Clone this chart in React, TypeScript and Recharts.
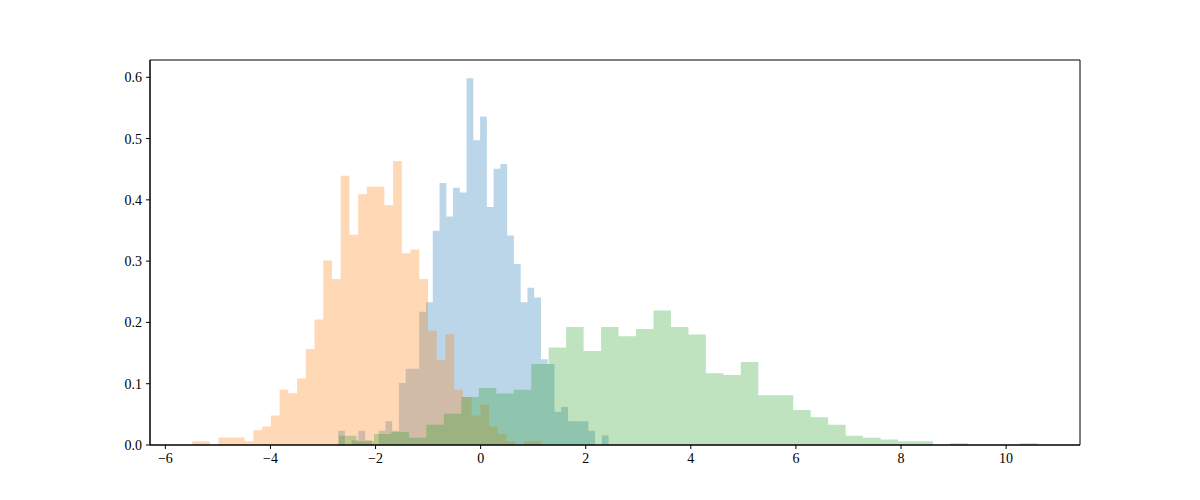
import { AreaChart, Area, XAxis, YAxis, ReferenceArea } from "recharts";

// histogram counts per bin (40 bins each)
const blueCounts = [3, 0, 1, 3, 1, 0, 3, 5, 3, 13, 16, 16, 28, 30, 45, 55, 48, 54, 53, 77, 64, 69, 50, 58, 59, 44, 38, 30, 33, 31, 18, 17, 7, 8, 5, 5, 5, 3, 0, 2];
const orangeCounts = [1, 1, 0, 2, 2, 2, 1, 4, 5, 8, 15, 14, 18, 26, 34, 50, 45, 73, 57, 68, 70, 70, 65, 77, 52, 53, 45, 31, 23, 30, 15, 13, 8, 11, 5, 3, 1, 0, 1, 1];
const greenCounts = [5, 2, 6, 7, 4, 11, 17, 26, 31, 28, 30, 44, 53, 64, 51, 64, 59, 63, 73, 64, 60, 39, 38, 45, 27, 27, 19, 15, 11, 5, 4, 3, 2, 2, 0, 1, 0, 0, 0, 1];

// first bin edge and bin width of each histogram
const blueBins = { start: -2.713, width: 0.1287 };
const orangeBins = { start: -5.488, width: 0.16616 };
const greenBins = { start: -2.694, width: 0.3324 };

const xTicks = [-6, -4, -2, 0, 2, 4, 6, 8, 10];
const yTicks = [0, 0.1, 0.2, 0.3, 0.4, 0.5, 0.6];
const xDomain: [number, number] = [-6.2925, 11.4065];
const yDomain: [number, number] = [0, 0.6282];

type Row = { x: number; blue?: number; orange?: number; green?: number };

// density histogram as step points: one point per left edge, plus the last right edge
const addSeries = (rows: Row[], key: "blue" | "orange" | "green", counts: number[], bins: { start: number; width: number }) => {
  const total = counts.reduce((a, b) => a + b, 0);
  const dens = counts.map((c) => c / (total * bins.width));
  for (let i = 0; i <= counts.length; i++) {
    const row: Row = { x: bins.start + i * bins.width };
    row[key] = dens[Math.min(i, counts.length - 1)];
    rows.push(row);
  }
};

const rows: Row[] = [];
addSeries(rows, "blue", blueCounts, blueBins);
addSeries(rows, "orange", orangeCounts, orangeBins);
addSeries(rows, "green", greenCounts, greenBins);
rows.sort((a, b) => a.x - b.x);

const tickStyle = {
  fontFamily: "'Liberation Serif', 'Times New Roman', serif",
  fontSize: 14,
  fill: "#000",
};

const fmtX = (v: number) => (v < 0 ? "\u2212" + Math.abs(v) : String(v));

const App = () => {
  return (
    <div style={{ position: "absolute", left: 0, top: 0, width: 1200, height: 500, background: "#fff" }}>
      <AreaChart width={1200} height={500} data={rows} margin={{ top: 60, right: 120, bottom: 0, left: 0 }}>
        <XAxis
          dataKey="x"
          type="number"
          domain={xDomain}
          allowDataOverflow
          ticks={xTicks}
          tickFormatter={fmtX}
          height={55}
          tick={tickStyle}
          tickSize={4}
          tickMargin={4}
          stroke="#000"
          interval={0}
        />
        <YAxis
          type="number"
          domain={yDomain}
          allowDataOverflow
          ticks={yTicks}
          tickFormatter={(v: number) => v.toFixed(1)}
          width={150}
          tick={tickStyle}
          tickSize={4}
          tickMargin={4}
          stroke="#000"
          interval={0}
        />
        <Area
          dataKey="blue"
          type="stepAfter"
          connectNulls
          fill="#1f77b4"
          fillOpacity={0.3}
          stroke="none"
          dot={false}
          activeDot={false}
          isAnimationActive={false}
        />
        <Area
          dataKey="orange"
          type="stepAfter"
          connectNulls
          fill="#ff7f0e"
          fillOpacity={0.3}
          stroke="none"
          dot={false}
          activeDot={false}
          isAnimationActive={false}
        />
        <Area
          dataKey="green"
          type="stepAfter"
          connectNulls
          fill="#2ca02c"
          fillOpacity={0.3}
          stroke="none"
          dot={false}
          activeDot={false}
          isAnimationActive={false}
        />
        <ReferenceArea
          x1={xDomain[0]}
          x2={xDomain[1]}
          y1={yDomain[0]}
          y2={yDomain[1]}
          fill="none"
          stroke="#000"
          strokeWidth={1}
          ifOverflow="visible"
        />
      </AreaChart>
    </div>
  );
};

export default App;
